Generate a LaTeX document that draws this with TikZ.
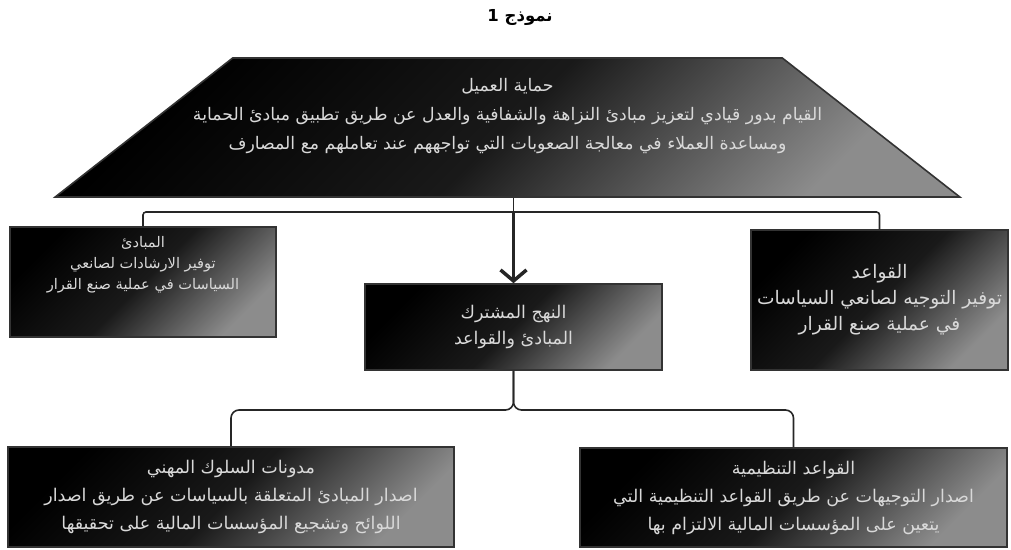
\documentclass[tikz,border=0pt]{standalone}
\usepackage{fontspec}
\usetikzlibrary{shapes.geometric, arrows.meta, positioning}
\TeXXeTstate=1
\newfontfamily\arabicfont[Script=Arabic]{DejaVu Sans}
\newcommand{\ar}[1]{\beginR #1\endR}
\tikzset{
	x=1pt, y=1pt,
	darkbox/.style={draw=black!80, line width=1.6pt, shade, top color=black, bottom color=black!45, middle color=black!90, shading angle=45, inner sep=0pt},
	boxtext/.style={text=black!15, align=center},
	link/.style={draw=black!85, line width=1.6pt},
	arrowline/.style={draw=black!85, line width=3.5pt, -{Straight Barb[length=11pt, width=26pt]}}}

\begin{document}
\begin{tikzpicture}
	\useasboundingbox (0,0) rectangle (1011,-549);
	\node[font=\arabicfont\bfseries\fontsize{16.5}{20}\selectfont] (title) at (520,-17) {\ar{نموذج 1}};

	% stretched trapezium, angles tuned to give the slanted sides
	\node[darkbox, trapezium, inner sep=4pt, trapezium left angle=72.1, trapezium right angle=72.1, trapezium stretches=true, minimum width=905, minimum height=139] (prot) at (507.5,-127.5) {};
	\node[boxtext, font=\arabicfont\fontsize{17.3}{29}\selectfont] (protText) at ([yshift=11]prot.center) {\ar{حماية العميل}\\ \ar{القيام بدور قيادي لتعزيز مبادئ النزاهة والشفافية والعدل عن طريق تطبيق مبادئ الحماية}\\ \ar{ومساعدة العملاء في معالجة الصعوبات التي تواجههم عند تعاملهم مع المصارف}};

	\node[darkbox, minimum width=266, minimum height=110] (princ) at (143,-282) {};
	\node[boxtext, font=\arabicfont\fontsize{14.6}{21}\selectfont] (princText) at ([yshift=17]princ.center) {\ar{المبادئ}\\ \ar{توفير الارشادات لصانعي}\\ \ar{السياسات في عملية صنع القرار}};
	\node[darkbox, boxtext, minimum width=297, minimum height=86, font=\arabicfont\fontsize{17.5}{26}\selectfont] (common) at (513.5,-327) {\ar{النهج المشترك}\\ \ar{المبادئ والقواعد}};
	\node[darkbox, boxtext, minimum width=257, minimum height=140, font=\arabicfont\fontsize{18.6}{26}\selectfont] (rules) at (879.5,-300) {\ar{القواعد}\\ \ar{توفير التوجيه لصانعي السياسات}\\ \ar{في عملية صنع القرار}};

	\node[darkbox, boxtext, minimum width=446, minimum height=100, font=\arabicfont\fontsize{17.5}{28}\selectfont] (codes) at (231,-497) {\ar{مدونات السلوك المهني}\\ \ar{اصدار المبادئ المتعلقة بالسياسات عن طريق اصدار}\\ \ar{اللوائح وتشجيع المؤسسات المالية على تحقيقها}};
	\node[darkbox, boxtext, minimum width=427, minimum height=99, font=\arabicfont\fontsize{17.5}{28}\selectfont] (regs) at (793.5,-497.5) {\ar{القواعد التنظيمية}\\ \ar{اصدار التوجيهات عن طريق القواعد التنظيمية التي}\\ \ar{يتعين على المؤسسات المالية الالتزام بها}};

	\coordinate (junc) at (common.north |- 0,-212);
	\coordinate (split) at (common.south |- 0,-410);

	\draw[link] (prot.south -| junc) -- (junc);
	\draw[link, rounded corners=3] (princ.north) |- (junc) -| (rules.north);
	\draw[arrowline] (junc) -- (common.north);
	\draw[link, rounded corners=8] (common.south) -- (split) -| (codes.north);
	\draw[link, rounded corners=8] (common.south) -- (split) -| (regs.north);
\end{tikzpicture}
\end{document}
